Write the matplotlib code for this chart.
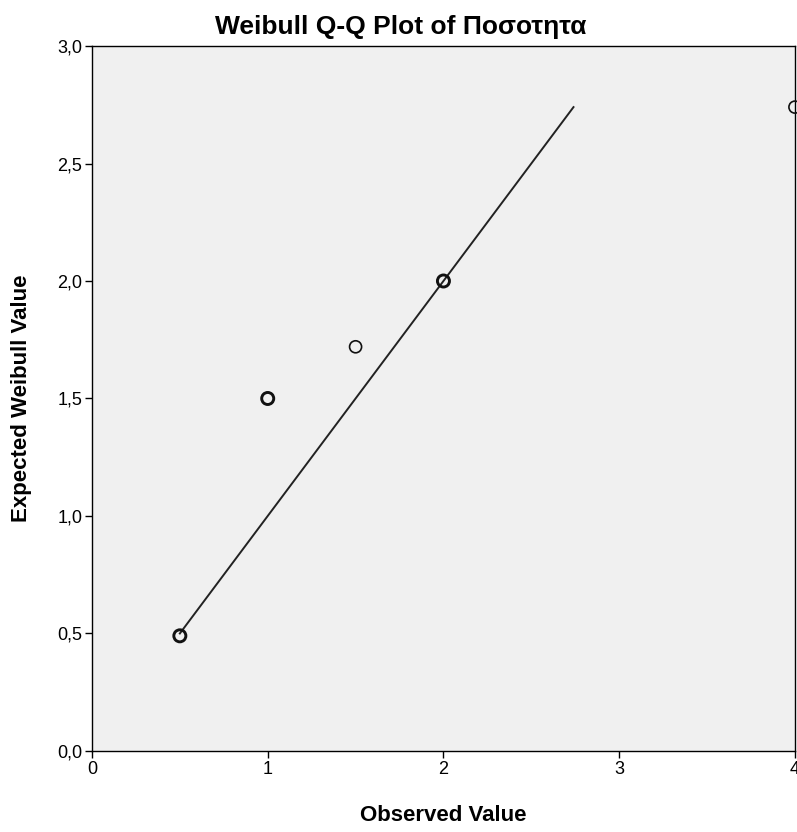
import matplotlib
matplotlib.use("Agg")
import matplotlib.pyplot as plt

# observed vs expected, with how many cases sit on each point
observed = [0.5, 1.0, 1.5, 2.0, 4.0]
expected = [0.49, 1.50, 1.72, 2.00, 2.74]
counts = [2, 2, 1, 2, 1]
line_x = [0.5, 2.74]
line_y = [0.5, 2.74]

x_ticks = [0, 1, 2, 3, 4]
y_ticks = [0.0, 0.5, 1.0, 1.5, 2.0, 2.5, 3.0]
y_labels = ["0,0", "0,5", "1,0", "1,5", "2,0", "2,5", "3,0"]

plt.rcParams['font.family'] = ['Liberation Sans', 'DejaVu Sans']

fig = plt.figure(figsize=(7.97, 8.32), dpi=100)
ax = fig.add_axes([0.1154, 0.0974, 0.882, 0.8473])
ax.set_facecolor("#f0f0f0")

ax.plot(line_x, line_y, color="#222222", linewidth=1.4, zorder=2)
lws = [1.2 if c == 1 else 2.1 for c in counts]
ax.scatter(observed, expected, s=75, facecolors="none", edgecolors="#111111",
           linewidths=lws, zorder=3, clip_on=False)

ax.set_xlim(0, 4)
ax.set_ylim(0, 3)
ax.set_xticks(x_ticks)
ax.set_xticklabels([str(t) for t in x_ticks])
ax.set_yticks(y_ticks)
ax.set_yticklabels(y_labels)
ax.tick_params(direction="out", length=5, width=1, labelsize=13, colors="black", pad=2)

for s in ax.spines.values():
    s.set_color("black")
    s.set_linewidth(1)

fig.text(0.503, 0.968, "Weibull Q-Q Plot of Ποσοτητα", fontsize=19,
         fontweight="bold", ha="center", va="center")
ax.set_xlabel("Observed Value", fontsize=16, fontweight="bold", labelpad=20)
ax.set_ylabel("Expected Weibull Value", fontsize=16, fontweight="bold", labelpad=18)

fig.savefig("out.png", dpi=100)
